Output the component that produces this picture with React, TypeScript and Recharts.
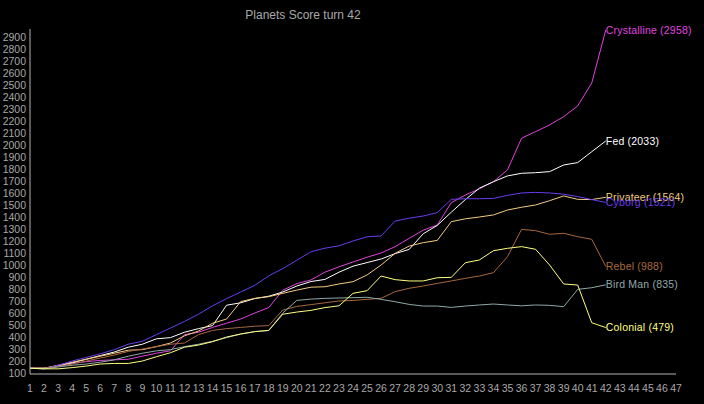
import { LineChart, Line, XAxis, YAxis } from 'recharts';

const turns = [
  1, 2, 3, 4, 5, 6, 7, 8, 9, 10, 11, 12, 13, 14, 15, 16, 17, 18, 19, 20, 21,
  22, 23, 24, 25, 26, 27, 28, 29, 30, 31, 32, 33, 34, 35, 36, 37, 38, 39, 40, 41, 42,
];

const crystalline = [
  140, 140, 160, 180, 195, 205, 210, 215, 240, 265, 285, 420, 440, 480, 515, 550, 600, 645, 790, 845, 875,
  940, 985, 1025, 1065, 1100, 1153, 1222, 1290, 1333, 1519, 1583, 1635, 1694, 1792, 2056, 2111, 2167, 2236, 2325, 2516, 2958,
];
const fed = [
  140, 140, 160, 185, 215, 245, 275, 315, 340, 385, 395, 440, 470, 495, 665, 685, 720, 740, 775, 825, 862,
  880, 940, 990, 1020, 1050, 1095, 1130, 1260, 1330, 1440, 1545, 1640, 1694, 1742, 1764, 1769, 1778, 1833, 1853, 1944, 2033,
];
const privateer = [
  140, 140, 165, 190, 215, 240, 265, 290, 295, 320, 350, 410, 450, 515, 550, 695, 722, 736, 764, 791, 815,
  819, 842, 861, 917, 1000, 1097, 1158, 1186, 1205, 1361, 1385, 1400, 1417, 1458, 1481, 1500, 1536, 1575, 1547, 1545, 1564,
];
const cyborg = [
  140, 135, 165, 200, 230, 260, 295, 340, 365, 420, 475, 530, 590, 660, 720, 775, 830, 910, 970, 1040, 1110,
  1140, 1160, 1200, 1235, 1242, 1366, 1390, 1408, 1436, 1547, 1552, 1552, 1555, 1580, 1600, 1605, 1600, 1590, 1570, 1545, 1521,
];
const rebel = [
  140, 140, 155, 175, 200, 225, 250, 280, 300, 320, 340, 350, 420, 455, 470, 480, 490, 495, 625, 655, 670,
  685, 700, 705, 714, 722, 778, 806, 825, 847, 867, 889, 908, 936, 1069, 1297, 1286, 1256, 1264, 1236, 1214, 988,
];
const birdMan = [
  140, 135, 150, 165, 175, 190, 210, 240, 265, 285, 295, 320, 340, 365, 395, 425, 445, 455, 600, 705, 716,
  722, 725, 728, 731, 714, 694, 672, 658, 658, 647, 658, 667, 675, 667, 660, 667, 664, 653, 797, 811, 835,
];
const colonial = [
  140, 135, 135, 145, 158, 175, 180, 180, 200, 236, 269, 315, 333, 361, 400, 425, 445, 455, 590, 608, 622,
  645, 660, 764, 786, 908, 878, 867, 867, 894, 897, 1019, 1042, 1119, 1139, 1153, 1131, 1000, 842, 833, 519, 479,
];

const xTicks = [
  1, 2, 3, 4, 5, 6, 7, 8, 9, 10, 11, 12, 13, 14, 15, 16, 17, 18, 19, 20, 21, 22, 23, 24,
  25, 26, 27, 28, 29, 30, 31, 32, 33, 34, 35, 36, 37, 38, 39, 40, 41, 42, 43, 44, 45, 46, 47,
];
const yTicks = [
  100, 200, 300, 400, 500, 600, 700, 800, 900, 1000, 1100, 1200, 1300, 1400, 1500,
  1600, 1700, 1800, 1900, 2000, 2100, 2200, 2300, 2400, 2500, 2600, 2700, 2800, 2900,
];

const series = [
  { name: 'Crystalline', values: crystalline, color: '#e044e0' },
  { name: 'Fed', values: fed, color: '#ffffff' },
  { name: 'Privateer', values: privateer, color: '#f4cc80' },
  { name: 'Cyborg', values: cyborg, color: '#6a3cf0' },
  { name: 'Rebel', values: rebel, color: '#a8683e' },
  { name: 'Bird Man', values: birdMan, color: '#8fa8a8' },
  { name: 'Colonial', values: colonial, color: '#ffff80' },
];

const data = turns.map((turn, i) => {
  const row: Record<string, number> = { turn };
  series.forEach((s) => {
    row[s.name] = s.values[i];
  });
  return row;
});

const FONT = '"Liberation Sans", Arial, sans-serif';
const AXIS = '#b4b4b4';
const TEXT = '#a8a8a8';

// name + final score, drawn only at the last point
function endLabel(name: string, color: string, last: number) {
  return (props: any) => {
    if (props.index !== last) return null;
    return (
      <text
        x={props.x}
        y={props.y}
        dy="0.35em"
        fill={color}
        fontSize={10.5}
        fontFamily={FONT}
        letterSpacing={0.2}
      >
        {`${name} (${props.value})`}
      </text>
    );
  };
}

export default function App() {
  return (
    <div style={{ position: 'fixed', left: 0, top: 0, width: 704, height: 404, background: '#000' }}>
      <div
        style={{
          position: 'absolute',
          left: 0,
          width: 606,
          top: 8,
          textAlign: 'center',
          color: TEXT,
          fontFamily: FONT,
          fontSize: 12,
        }}
      >
        Planets Score turn 42
      </div>
      <LineChart width={704} height={404} data={data} margin={{ top: 29, right: 28, bottom: 6, left: 0 }}>
        <XAxis
          dataKey="turn"
          type="number"
          domain={[1, 47]}
          ticks={xTicks}
          interval={0}
          height={24}
          tickLine={false}
          tickMargin={5}
          axisLine={{ stroke: AXIS }}
          tick={{ fill: TEXT, fontSize: 10.5, fontFamily: FONT }}
        />
        <YAxis
          type="number"
          domain={[92, 2966]}
          ticks={yTicks}
          interval={0}
          width={30}
          allowDataOverflow
          tickLine={false}
          tickSize={2}
          axisLine={{ stroke: AXIS }}
          tick={{ fill: TEXT, fontSize: 10.5, fontFamily: FONT }}
        />
        {series.map((s) => (
          <Line
            key={s.name}
            dataKey={s.name}
            type="linear"
            stroke={s.color}
            strokeWidth={1}
            dot={false}
            activeDot={false}
            isAnimationActive={false}
            label={endLabel(s.name, s.color, turns.length - 1)}
          />
        ))}
      </LineChart>
    </div>
  );
}
